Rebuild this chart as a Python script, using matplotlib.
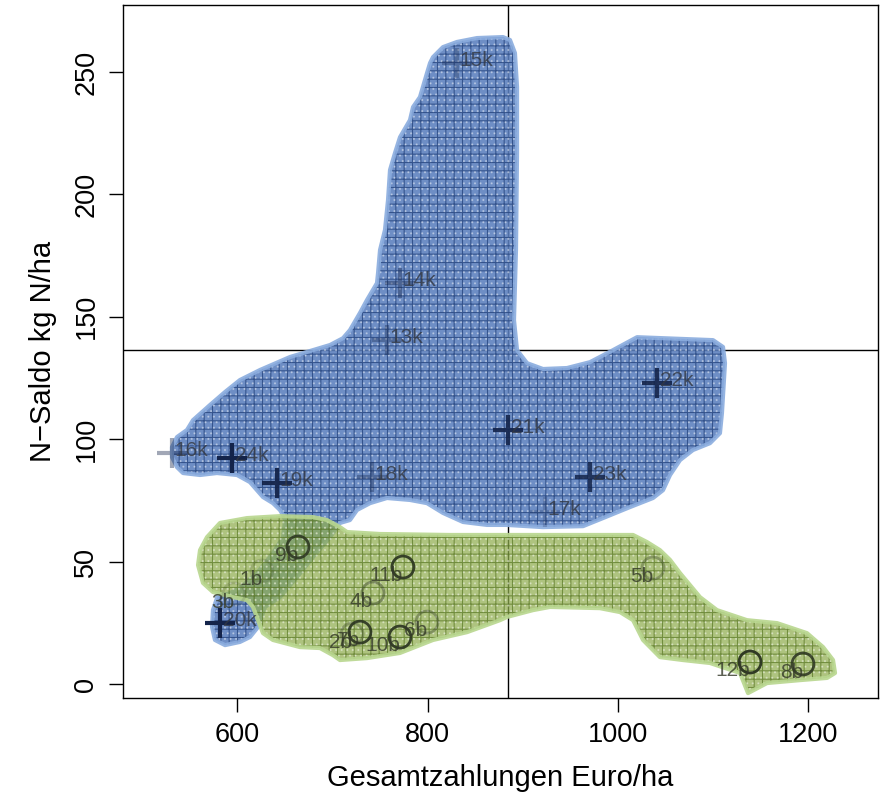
#importing
import numpy as np
import matplotlib.pyplot as plt
from matplotlib.patches import Polygon
from matplotlib.colors import to_rgba

plt.rcParams['font.family'] = ['Liberation Sans', 'DejaVu Sans']
plt.rcParams['hatch.linewidth'] = 0.8

#outline of the blue (k) region, data units
blue_x = [805.6, 816.1, 830.8, 851.9, 879.2, 886.6, 891.8, 894.0, 894.0, 892.9,
          890.8, 894.0, 904.5, 921.3, 946.5, 970.7, 994.9, 1020.2, 1100.1, 1110.6,
          1112.7, 1109.5, 1107.4, 1096.9, 1079.0, 1065.4, 1054.9, 1047.5, 1037.0, 1012.8,
          984.4, 963.4, 921.3, 883.4, 862.4, 837.2, 816.1, 799.3, 781.4, 757.2,
          739.4, 725.7, 718.3, 707.8, 697.3, 679.4, 662.6, 644.7, 628.9, 621.6,
          613.1, 602.6, 586.9, 576.3, 573.2, 574.2, 579.5, 590.0, 602.6, 620.5,
          637.3, 647.9, 650.0, 647.9, 644.7, 637.3, 626.8, 620.5, 613.1, 599.5,
          578.4, 560.6, 542.7, 536.4, 531.1, 531.1, 536.4, 546.9, 553.2, 571.1,
          586.9, 602.6, 623.7, 655.2, 697.3, 711.0, 718.3, 728.8, 736.2, 746.7,
          747.8, 749.9, 755.1, 758.3, 760.4, 765.6, 770.9, 781.4, 784.6, 791.9,
          799.3, 802.5]
blue_y = [256.1, 260.2, 262.3, 263.9, 264.3, 263.1, 257.8, 243.9, 216.9, 177.3,
          148.7, 136.4, 131.1, 128.7, 129.1, 131.5, 136.4, 141.7, 140.5, 137.7,
          131.1, 110.7, 102.5, 98.4, 95.6, 91.5, 85.4, 79.2, 76.0, 72.3,
          67.8, 64.5, 64.1, 65.0, 65.0, 66.2, 69.9, 73.9, 75.2, 76.0,
          73.9, 71.1, 67.0, 65.8, 60.0, 51.9, 43.7, 35.5, 31.5, 23.3,
          19.2, 17.2, 15.9, 18.0, 23.3, 30.2, 36.4, 36.8, 39.2, 45.3,
          53.5, 60.0, 67.0, 69.0, 71.1, 73.9, 76.4, 79.2, 82.5, 85.4,
          86.2, 85.4, 86.2, 88.6, 92.7, 96.8, 100.9, 103.8, 107.8, 114.0,
          119.3, 124.2, 128.3, 133.6, 138.5, 141.3, 144.6, 151.6, 156.9, 163.8,
          167.9, 177.3, 185.5, 197.7, 210.0, 216.9, 223.4, 230.4, 235.7, 239.8,
          249.6, 253.7]

#outline of the green (b) region
green_x = [560.6, 567.9, 581.6, 610.0, 644.7, 679.4, 694.1, 707.8, 715.2, 749.9,
           823.5, 928.7, 1016.0, 1030.7, 1044.3, 1054.9, 1065.4, 1086.4, 1104.3, 1135.8,
           1167.4, 1198.9, 1215.8, 1226.3, 1228.4, 1220.0, 1191.6, 1156.9, 1136.9, 1128.5,
           1096.9, 1068.5, 1044.3, 1026.5, 1016.0, 1002.3, 981.2, 928.7, 910.8, 883.4,
           876.1, 841.4, 805.6, 770.9, 736.2, 707.8, 700.4, 686.8, 665.7, 637.3,
           626.8, 621.6, 616.3, 610.0, 595.3, 574.2, 563.7, 558.5]
green_y = [54.7, 60.0, 65.8, 67.8, 68.6, 68.2, 67.0, 64.1, 62.1, 61.3,
           60.9, 60.9, 60.9, 58.0, 54.7, 50.7, 45.3, 35.5, 30.2, 26.1,
           24.9, 20.8, 15.1, 9.8, 4.5, 2.5, 1.6, 0.4, -3.7, 4.5,
           8.6, 9.8, 11.0, 18.0, 26.1, 29.4, 31.0, 31.5, 30.2, 27.4,
           26.1, 21.2, 18.0, 12.7, 10.6, 9.8, 11.8, 14.7, 15.1, 18.0,
           20.8, 26.1, 31.5, 34.3, 35.5, 37.6, 41.3, 48.6]

#k farms (crosses)
k_names = ['15k', '14k', '13k', '16k', '24k', '19k', '18k', '21k', '22k', '23k', '17k', '20k']
k_x = [830.8, 770.9, 757.2, 531.1, 594.2, 641.5, 741.5, 884.5, 1041.2, 970.7, 923.4, 581.6]
k_y = [253.7, 163.8, 140.5, 94.4, 92.3, 82.1, 84.6, 103.8, 123.0, 84.6, 70.3, 24.9]
k_shade = [0.3, 0.4, 0.35, 0.4, 1.0, 0.95, 0.35, 0.9, 0.9, 0.85, 0.2, 1.0]

#b farms (circles)
b_names = ['9b', '1b', '3b', '11b', '4b', '2b', '7b', '10b', '6b', '5b', '12b', '8b']
b_x = [663.6, 625.8, 596.3, 774.0, 742.5, 720.5, 728.8, 770.9, 799.3, 1037.0, 1139.0, 1194.7]
b_y = [56.0, 46.2, 36.8, 47.8, 37.2, 20.4, 21.2, 19.2, 25.3, 47.4, 9.0, 8.2]
b_shade = [0.85, 0.15, 0.15, 0.9, 0.4, 0.3, 0.9, 0.9, 0.35, 0.3, 0.95, 0.85]

#reference lines
ref_x = 884.5
ref_y = 136.4

fig = plt.figure(figsize=(8.8, 7.98), dpi=100)
ax = fig.add_axes([123/880, 1-698/798, 755/880, 693/798])

ax.axvline(ref_x, color='black', lw=1, zorder=1)
ax.axhline(ref_y, color='black', lw=1, zorder=1)

def region(xs, ys, face, hatchc, edge, alpha, z):
    pts = np.column_stack([xs, ys])
    ax.add_patch(Polygon(pts, closed=True, facecolor=face, edgecolor='none', alpha=alpha, zorder=z))
    ax.add_patch(Polygon(pts, closed=True, facecolor='none', edgecolor=hatchc, lw=0, hatch='++', alpha=alpha, zorder=z+0.1))
    ax.add_patch(Polygon(pts, closed=True, facecolor='none', edgecolor='#ffffff', lw=0, hatch='...', alpha=0.35, zorder=z+0.2))
    ax.add_patch(Polygon(pts, closed=True, fill=False, edgecolor=edge, lw=3, joinstyle='round', alpha=0.9, zorder=z+0.3))

region(blue_x, blue_y, '#5a7ebd', '#2c4b84', '#8aacde', 0.88, 2)
region(green_x, green_y, '#8fad4e', '#5a7826', '#b8d68e', 0.72, 3)

#points
kc = [to_rgba('#14244a', a) for a in k_shade]
ax.scatter(k_x, k_y, marker='+', s=470, linewidths=3, c=kc, zorder=5)
bc = [to_rgba('#2a3320', a) for a in b_shade]
ax.scatter(b_x, b_y, marker='o', s=250, linewidths=2, facecolors='none', edgecolors=bc, zorder=5)

for n, x, y in zip(k_names, k_x, k_y):
    ax.annotate(n, (x, y), xytext=(2, 2), textcoords='offset points', ha='left', va='center',
                fontsize=15, color='#333842', alpha=0.8, zorder=6)
for n, x, y in zip(b_names, b_x, b_y):
    ax.annotate(n, (x, y), xytext=(0, -6), textcoords='offset points', ha='right', va='center',
                fontsize=15, color='#333828', alpha=0.8, zorder=6)

ax.set_xlim(479.6, 1273.6)
ax.set_ylim(-5.7, 277.4)
ax.set_xticks([600, 800, 1000, 1200])
ax.set_yticks([0, 50, 100, 150, 200, 250])
ax.tick_params(direction='out', length=10, width=1, labelsize=19.5, pad=7)
for lab in ax.get_yticklabels():
    lab.set_rotation(90)
    lab.set_va('center')
for s in ax.spines.values():
    s.set_linewidth(1)

ax.set_xlabel('Gesamtzahlungen Euro/ha', fontsize=21, labelpad=12)
ax.set_ylabel('N\u2212Saldo kg N/ha', fontsize=21, labelpad=12)

plt.savefig('out.png', dpi=100)
